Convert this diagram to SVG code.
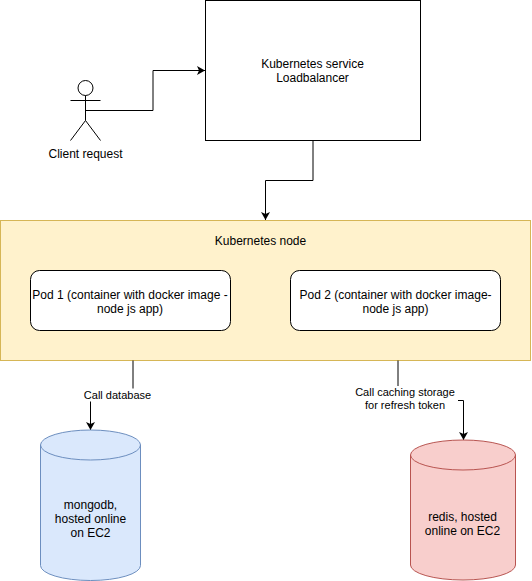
<svg xmlns="http://www.w3.org/2000/svg" width="532" height="581" viewBox="0 0 532 581">
<defs>
<style>
text{font-family:"Liberation Sans",Arial,sans-serif;font-size:12px;fill:#000;text-anchor:middle}
.sm{font-size:11px}
.edge{fill:none;stroke:#000;stroke-width:1}
.s{stroke:#000;stroke-width:1;fill:#fff}
</style>
<marker id="arrow" markerUnits="userSpaceOnUse" markerWidth="10" markerHeight="10" refX="8" refY="4.500" orient="auto"><path d="M0 0L8 4.500L0 9L2 4.500Z" fill="#000"/></marker>
</defs>
<rect width="532" height="581" fill="#fff"/>
<g id="node-k8s"><rect x="0.500" y="220.500" width="530" height="140" fill="#fff2cc" stroke="#d6b656"/><text x="260.500" y="245">Kubernetes node</text></g>
<g id="connectors">
<path class="edge" marker-end="url(#arrow)" d="M85.500 110.500H153V70.500H205"/>
<path class="edge" marker-end="url(#arrow)" d="M313 140.500V180.500H265.500V220"/>
<path class="edge" marker-end="url(#arrow)" d="M133 360.500V395.500H90.500V430"/>
<path class="edge" marker-end="url(#arrow)" d="M398 360.500V400.500H463.500V440"/>
</g>
<g id="node-client"><circle cx="85.500" cy="88" r="7.500" fill="#fff" stroke="#000"/><path class="edge" d="M85.500 95.500V120.500M70.500 100.500H100.500M70.500 140.500L85.500 120.500L100.500 140.500"/><text x="85.500" y="157.500">Client request</text></g>
<g id="node-lb"><rect class="s" x="205.500" y="0.500" width="215" height="140"/><text x="312.500" y="68">Kubernetes service</text><text x="312.500" y="82">Loadbalancer</text></g>
<g id="node-pod1"><rect class="s" x="30.500" y="270.500" width="200" height="60" rx="9"/><text x="130" y="299">Pod 1 (container with docker image -</text><text x="130" y="313">node js app)</text></g>
<g id="node-pod2"><rect class="s" x="290.500" y="270.500" width="210" height="60" rx="9"/><text x="395.500" y="299">Pod 2 (container with docker image-</text><text x="395.500" y="313">node js app)</text></g>
<g id="label-db"><rect x="83" y="388.500" width="69" height="13" fill="#fff"/><text class="sm" x="117.500" y="399">Call database</text></g>
<g id="label-cache"><rect x="353" y="386" width="105" height="26" fill="#fff"/><text class="sm" x="405" y="396">Call caching storage</text><text class="sm" x="405" y="409">for refresh token</text></g>
<g id="node-mongo"><path d="M40.500 445A50 15 0 0 1 140.500 445V565.500A50 15 0 0 1 40.500 565.500Z" fill="#dae8fc" stroke="#6c8ebf"/><path d="M40.500 445A50 15 0 0 0 140.500 445" fill="none" stroke="#6c8ebf"/><text x="90.500" y="508.500">mongodb,</text><text x="90.500" y="522.500">hosted online</text><text x="90.500" y="536.500">on EC2</text></g>
<g id="node-redis"><path d="M410.500 455A52.500 15 0 0 1 515.500 455V565A52.500 15 0 0 1 410.500 565Z" fill="#f8cecc" stroke="#b85450"/><path d="M410.500 455A52.500 15 0 0 0 515.500 455" fill="none" stroke="#b85450"/><text x="462.500" y="520.500">redis, hosted</text><text x="462.500" y="534.500">online on EC2</text></g>
</svg>
